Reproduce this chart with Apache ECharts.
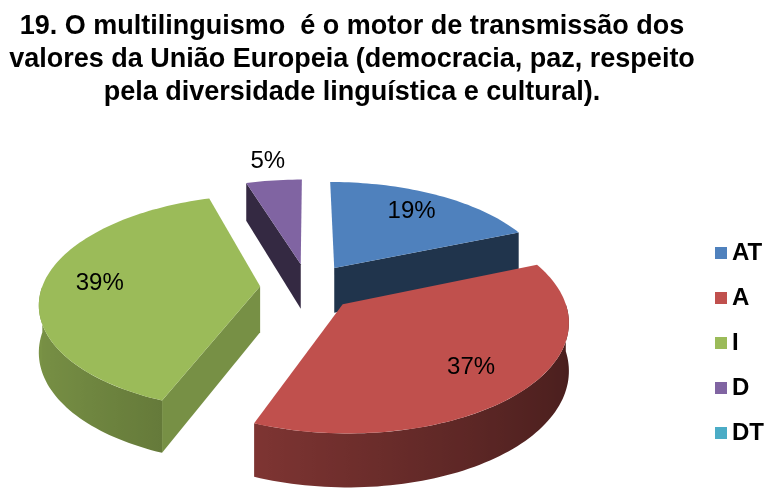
<!DOCTYPE html>
<html>
<head>
<meta charset="utf-8">
<script src="https://cdn.jsdelivr.net/npm/echarts@6/dist/echarts.min.js"></script>
<style>html,body{margin:0;padding:0;background:#fff}#chart{width:770px;height:489px}</style>
</head>
<body>
<div id="chart"></div>
<script>
// ---- data ----
const titleLines = [
  '19. O multilinguismo  é o motor de transmissão dos',
  'valores da União Europeia (democracia, paz, respeito',
  'pela diversidade linguística e cultural).'
];
const categories = ['AT', 'A', 'I', 'D', 'DT'];
const values = [19, 37, 39, 5, 0];
const colors = ['#4F81BD', '#C0504D', '#9BBB59', '#8064A2', '#4BACC6'];
const radialShade = [0.40, 0.40, 0.77, 0.41, 0.40];

// ---- 3D pie geometry (style) ----
const G = { cx: 308, cy: 287, rx: 218, ry: 108, k: 0.15, depth: 46, explode: 0.22 };
const total = values.reduce((a, b) => a + b, 0);

function proj(u, v, down) {
  const p = 1 + G.k * v;
  return [G.cx + G.rx * u * p, G.cy + G.ry * v * p + down * G.depth * p];
}
function shade(hex, f) {
  const n = parseInt(hex.slice(1), 16);
  const r = Math.round(((n >> 16) & 255) * f), g = Math.round(((n >> 8) & 255) * f), b = Math.round((n & 255) * f);
  return 'rgb(' + r + ',' + g + ',' + b + ')';
}
function wallFactor(th) { return 0.58 - 0.2 * Math.sin(th); }

function makeRender(idx) {
  return function (params, api) {
    const val = values[idx];
    if (!val) return { type: 'group', children: [] };
    let before = 0;
    for (let j = 0; j < idx; j++) before += values[j];
    const start = before / total * Math.PI * 2;
    const end = (before + val) / total * Math.PI * 2;
    const mid = (start + end) / 2;
    const ou = G.explode * Math.sin(mid), ov = -G.explode * Math.cos(mid);
    const P = (th, r, down) => proj(ou + r * Math.sin(th), ov - r * Math.cos(th), down);
    const base = Math.round((1 - Math.cos(mid)) * 50) * 10;
    const color = colors[idx];
    const children = [];
    const aTop = proj(ou, ov, 0), aBot = proj(ou, ov, 1);
    const N = Math.max(6, Math.ceil((end - start) / (Math.PI / 120)));

    // radial faces
    if (Math.sin(start) < -0.02) {
      children.push({ type: 'polygon', z2: base, shape: { points: [aTop, P(start, 1, 0), P(start, 1, 1), aBot] },
        style: { fill: shade(color, radialShade[idx]) } });
    }
    if (Math.sin(end) > 0.02) {
      children.push({ type: 'polygon', z2: base, shape: { points: [aTop, P(end, 1, 0), P(end, 1, 1), aBot] },
        style: { fill: shade(color, radialShade[idx]) } });
    }
    // outer wall (front half)
    const w0 = Math.max(start, Math.PI / 2), w1 = Math.min(end, Math.PI * 1.5);
    if (w1 > w0) {
      const M = Math.max(4, Math.ceil((w1 - w0) / (Math.PI / 120)));
      const topPts = [], botPts = [], stops = [];
      for (let s = 0; s <= M; s++) {
        const th = w0 + (w1 - w0) * s / M;
        topPts.push(P(th, 1, 0));
        botPts.push(P(th, 1, 1));
      }
      const xmax = topPts[0][0], xmin = topPts[M][0];
      for (let s = M; s >= 0; s--) {
        const th = w0 + (w1 - w0) * s / M;
        stops.push({ offset: Math.min(1, Math.max(0, (topPts[s][0] - xmin) / (xmax - xmin))), color: shade(color, wallFactor(th)) });
      }
      children.push({ type: 'polygon', z2: base + 1, shape: { points: topPts.concat(botPts.reverse()) },
        style: { fill: new echarts.graphic.LinearGradient(xmin, 0, xmax, 0, stops, true) } });
    }
    // top face
    const topFace = [aTop];
    for (let s = 0; s <= N; s++) topFace.push(P(start + (end - start) * s / N, 1, 0));
    children.push({ type: 'polygon', z2: base + 5, shape: { points: topFace }, style: { fill: color } });

    // label
    const lr = val / total < 0.1 ? 1.3 : 0.74;
    const lp = P(mid, lr, 0);
    children.push({ type: 'text', z2: 5000, x: lp[0], y: lp[1],
      style: { text: Math.round(val / total * 100) + '%', align: 'center', verticalAlign: 'middle',
        font: '24px "Liberation Sans", Arial, sans-serif', fill: '#000' } });
    return { type: 'group', children: children };
  };
}

const chart = echarts.init(document.getElementById('chart'), null, { renderer: 'canvas' });
chart.setOption({
  animation: false,
  backgroundColor: '#fff',
  graphic: [{
    type: 'text', x: 352, y: 10,
    style: { text: titleLines.join('\n'), align: 'center', verticalAlign: 'top', lineHeight: 33,
      font: 'bold 27px "Liberation Sans", Arial, sans-serif', fill: '#000' }
  }],
  legend: {
    orient: 'vertical', left: 715, top: 240, padding: 0, icon: 'rect', itemWidth: 12, itemHeight: 12, itemGap: 19,
    data: categories,
    textStyle: { fontFamily: '"Liberation Sans", Arial, sans-serif', fontWeight: 'bold', fontSize: 24, lineHeight: 26, color: '#000' }
  },
  series: categories.map((c, i) => ({
    type: 'custom', name: c, coordinateSystem: 'none', renderItem: makeRender(i),
    data: [values[i]], itemStyle: { color: colors[i] }
  }))
});
</script>
</body>
</html>
